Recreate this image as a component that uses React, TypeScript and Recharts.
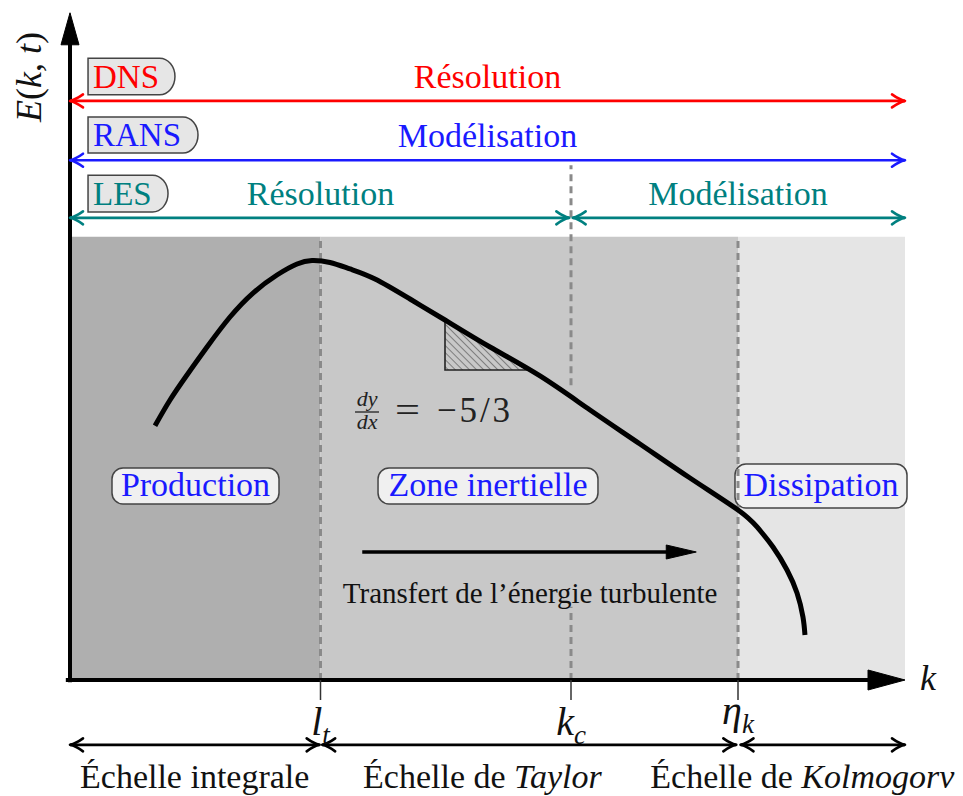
import React from "react";
import {
  ComposedChart,
  Line,
  XAxis,
  YAxis,
  ReferenceArea,
  ReferenceLine,
  ReferenceDot,
} from "recharts";

// ---- energy spectrum E(k) (k axis 0..10, E axis 0..12) ----
const curveK = [1.018, 1.198, 1.401, 1.641, 1.916, 2.192, 2.479, 2.719, 2.898, 3.114, 3.353, 3.653, 4.072, 4.491, 5.03, 5.629, 6.228, 6.826, 7.425, 8.0, 8.228, 8.419, 8.587, 8.707, 8.778, 8.802];
const curveE = [4.589, 5.053, 5.504, 6.009, 6.55, 6.983, 7.308, 7.507, 7.57, 7.534, 7.417, 7.236, 6.875, 6.496, 6.009, 5.486, 4.872, 4.259, 3.645, 3.068, 2.761, 2.4, 1.985, 1.57, 1.137, 0.812];

// ---- spectral regions ----
const regionEdges = [0, 3, 8, 10];
const regionFills = ["#afafaf", "#c8c8c8", "#e5e5e5"];
const regionTop = 8;

// ---- characteristic scales on the k axis ----
const tickValues = [3, 6, 8];
const tickBase = ["l", "k", "η"];
const tickSub = ["t", "c", "k"];

// ---- dashed separators ----
const dashK = [3, 6, 6, 8];
const dashFrom = [0, 5.32, 0, 0];
const dashTo = [8, 9.29, 1.32, 8];

// ---- simulation methods ----
const methodNames = ["DNS", "RANS", "LES"];
const methodColors = ["#ff0000", "#1a1aff", "#008080"];
const methodE = [10.45, 9.38, 8.34];
const methodBoxLeft = [0.216, 0.216, 0.216];
const methodBoxRight = [1.257, 1.533, 1.174];
const methodBoxTop = [11.22, 10.16, 9.11];
const methodBoxBottom = [10.56, 9.51, 8.445];

// ---- method spans ----
const spanMethod = [0, 1, 2, 2];
const spanFrom = [0, 0, 0, 6.02];
const spanTo = [10, 10, 5.98, 10];
const spanText = ["Résolution", "Modélisation", "Résolution", "Modélisation"];
const spanTextK = [5.0, 5.0, 3.0, 8.0];

// ---- zone labels ----
const zoneNames = ["Production", "Zone inertielle", "Dissipation"];
const zoneX1 = [0.503, 3.689, 7.964];
const zoneX2 = [2.503, 6.323, 10.024];
const zoneY1 = [3.176, 3.176, 3.104];
const zoneY2 = [3.826, 3.826, 3.898];

// ---- bottom scale bands ----
const scaleFrom = [0, 3.02, 8.03];
const scaleTo = [2.99, 7.98, 10];
const scaleRoman = ["Échelle integrale", "Échelle de ", "Échelle de "];
const scaleItalic = ["", "Taylor", "Kolmogorv"];
const scaleTextK = [0.12, 3.51, 6.95];
const scaleArrowE = -1.17;
const scaleTextE = -1.95;

// ---- slope triangle ----
const slopeK = [4.491, 5.473];
const slopeE = [5.594, 6.496];

// ---- energy transfer arrow ----
const transferK = [3.5, 7.5];
const transferE = 2.31;
const transferTextK = 5.51;
const transferTextE = 1.39;

const curveData = curveK.map((k, i) => ({ k, E: curveE[i] }));

const SERIF = "'Liberation Serif', 'Times New Roman', Times, serif";
const FONT = { fontFamily: SERIF };

function openHead(tx: number, ty: number, ux: number, uy: number, color: string, sw: number, key: string) {
  const L = 13;
  const W = 6.5;
  const nx = -uy;
  const ny = ux;
  const bx = tx - ux * L;
  const by = ty - uy * L;
  const cx = tx - ux * L * 0.45;
  const cy = ty - uy * L * 0.45;
  const d = `M ${bx + nx * W} ${by + ny * W} Q ${cx + nx * W * 0.2} ${cy + ny * W * 0.2} ${tx} ${ty} Q ${cx - nx * W * 0.2} ${cy - ny * W * 0.2} ${bx - nx * W} ${by - ny * W}`;
  return <path key={key} d={d} fill="none" stroke={color} strokeWidth={sw} strokeLinecap="round" strokeLinejoin="round" />;
}

const arrowShape = (color: string, sw: number, headStart: boolean, headEnd: boolean) => (p: any) => {
  const { x1, y1, x2, y2 } = p;
  const len = Math.hypot(x2 - x1, y2 - y1) || 1;
  const ux = (x2 - x1) / len;
  const uy = (y2 - y1) / len;
  return (
    <g>
      <line x1={x1} y1={y1} x2={x2} y2={y2} stroke={color} strokeWidth={sw} />
      {headStart ? openHead(x1, y1, -ux, -uy, color, sw, "s") : null}
      {headEnd ? openHead(x2, y2, ux, uy, color, sw, "e") : null}
    </g>
  );
};

const solidArrowShape = (color: string, sw: number, L: number, W: number) => (p: any) => {
  const { x1, y1, x2, y2 } = p;
  const len = Math.hypot(x2 - x1, y2 - y1) || 1;
  const ux = (x2 - x1) / len;
  const uy = (y2 - y1) / len;
  const nx = -uy;
  const ny = ux;
  const bx = x2 - ux * L;
  const by = y2 - uy * L;
  const pts = `${x2},${y2} ${bx + nx * W},${by + ny * W} ${bx - nx * W},${by - ny * W}`;
  return (
    <g>
      <line x1={x1} y1={y1} x2={bx + ux * 4} y2={by + uy * 4} stroke={color} strokeWidth={sw} />
      <polygon points={pts} fill={color} stroke={color} strokeWidth={1} strokeLinejoin="miter" />
    </g>
  );
};

const dashShape = (p: any) => (
  <line x1={p.x1} y1={p.y1} x2={p.x2} y2={p.y2} stroke="#8a8a8a" strokeWidth={3} strokeDasharray="7 5" />
);

const methodBoxShape = (i: number) => (p: any) => {
  const { x, y, width: w, height: h } = p;
  const ry = h / 2;
  const rx = h * 0.42;
  const d = `M ${x} ${y} H ${x + w - rx} A ${rx} ${ry} 0 0 1 ${x + w - rx} ${y + h} H ${x} Z`;
  return (
    <g>
      <path d={d} fill="#e6e6e6" stroke="#444" strokeWidth={1.5} />
      <text x={x + 5} y={y + h / 2 + 11.5} fill={methodColors[i]} fontSize={33} style={FONT}>
        {methodNames[i]}
      </text>
    </g>
  );
};

const zoneBoxShape = (i: number) => (p: any) => {
  const { x, y, width: w, height: h } = p;
  return (
    <g>
      <rect x={x} y={y} width={w} height={h} rx={11} ry={11} fill="#f0f0f0" stroke="#444" strokeWidth={1.5} />
      <text x={x + w / 2} y={y + h / 2 + 10} textAnchor="middle" fill="#1a1aff" fontSize={34} style={FONT}>
        {zoneNames[i]}
      </text>
    </g>
  );
};

const triangleShape = (p: any) => {
  const { x, y, width: w, height: h } = p;
  const pts = `${x},${y} ${x},${y + h} ${x + w},${y + h}`;
  return (
    <g>
      <defs>
        <pattern id="hatch" patternUnits="userSpaceOnUse" width={5} height={5} patternTransform="rotate(-45)">
          <line x1={0} y1={0} x2={0} y2={5} stroke="#333" strokeWidth={1} />
        </pattern>
      </defs>
      <polygon points={pts} fill="url(#hatch)" stroke="#222" strokeWidth={1.6} />
    </g>
  );
};

const textShape = (content: React.ReactNode, opts: any) => (p: any) => (
  <text x={p.cx} y={p.cy} style={FONT} {...opts}>
    {content}
  </text>
);

const spanTextShape = (i: number) => (p: any) => (
  <text x={p.cx} y={p.cy - 13} textAnchor="middle" fill={methodColors[spanMethod[i]]} fontSize={34} style={FONT}>
    {spanText[i]}
  </text>
);

const ylabelShape = (p: any) => (
  <text
    x={p.cx}
    y={p.cy}
    transform={`rotate(-90 ${p.cx} ${p.cy})`}
    textAnchor="middle"
    dominantBaseline="central"
    fontSize={36}
    style={FONT}
    fill="#111"
  >
    <tspan fontStyle="italic">E</tspan>(<tspan fontStyle="italic">k</tspan>, <tspan fontStyle="italic">t</tspan>)
  </text>
);

const fractionShape = (p: any) => {
  const { cx, cy } = p;
  return (
    <g fill="#222">
      <text x={cx} y={cy - 6} textAnchor="middle" fontSize={22} fontStyle="italic" style={FONT}>dy</text>
      <line x1={cx - 12} y1={cy} x2={cx + 12} y2={cy} stroke="#222" strokeWidth={1.3} />
      <text x={cx} y={cy + 17} textAnchor="middle" fontSize={22} fontStyle="italic" style={FONT}>dx</text>
      <text x={cx + 28} y={cy + 10} fontSize={36} textLength={25} lengthAdjust="spacingAndGlyphs" style={FONT}>=</text>
      <text x={cx + 70} y={cy + 10} fontSize={35} textLength={73} lengthAdjust="spacing" style={FONT}>−5/3</text>
    </g>
  );
};

const TickLabel = (props: any) => {
  const { x, y, payload } = props;
  const i = tickValues.indexOf(payload.value);
  if (i < 0) return null;
  const dy = i === 2 ? 22 : 33;
  return (
    <text x={x} y={y + dy} textAnchor="middle" fontSize={40} fontStyle="italic" fill="#111" style={FONT}>
      {tickBase[i]}
      <tspan fontSize={27} dy={9}>
        {tickSub[i]}
      </tspan>
    </text>
  );
};

export default function App() {
  return (
    <div style={{ position: "absolute", left: 0, top: 0, width: 963, height: 796, background: "#fff" }}>
      <ComposedChart width={963} height={796} data={curveData} margin={{ top: 15, right: 58, bottom: 56, left: 70 }}>
        <XAxis
          type="number"
          dataKey="k"
          domain={[0, 10]}
          ticks={tickValues}
          interval={0}
          axisLine={false}
          tickLine={{ stroke: "#333", strokeWidth: 1.5 }}
          tickSize={20}
          height={60}
          tick={(p: any) => <TickLabel {...p} />}
          allowDataOverflow
        />
        <YAxis type="number" domain={[0, 12]} hide allowDataOverflow />

        {regionFills.map((f, i) => (
          <ReferenceArea
            key={`reg${i}`}
            x1={regionEdges[i]}
            x2={regionEdges[i + 1]}
            y1={0}
            y2={regionTop}
            fill={f}
            fillOpacity={1}
            stroke="none"
            ifOverflow="visible"
          />
        ))}

        {dashK.map((k, i) => (
          <ReferenceLine
            key={`dash${i}`}
            segment={[
              { x: k, y: dashFrom[i] },
              { x: k, y: dashTo[i] },
            ]}
            shape={dashShape}
            ifOverflow="visible"
          />
        ))}

        <ReferenceArea x1={slopeK[0]} x2={slopeK[1]} y1={slopeE[0]} y2={slopeE[1]} shape={triangleShape} ifOverflow="visible" />

        <Line type="natural" dataKey="E" stroke="#000" strokeWidth={5} dot={false} activeDot={false} isAnimationActive={false} />

        {/* axes */}
        <ReferenceLine
          segment={[
            { x: -0.05, y: 0 },
            { x: 10, y: 0 },
          ]}
          shape={solidArrowShape("#000", 4, 37, 10)}
          ifOverflow="visible"
        />
        <ReferenceLine
          segment={[
            { x: 0, y: -0.04 },
            { x: 0, y: 12.04 },
          ]}
          shape={solidArrowShape("#000", 4, 32, 9)}
          ifOverflow="visible"
        />
        <ReferenceDot x={-0.49} y={10.88} ifOverflow="visible" shape={ylabelShape} />
        <ReferenceDot
          x={10.18}
          y={-0.18}
          ifOverflow="visible"
          shape={textShape("k", { fontSize: 36, fontStyle: "italic", fill: "#111" })}
        />

        {/* method boxes & arrows */}
        {methodNames.map((n, i) => (
          <ReferenceArea
            key={`mb${i}`}
            x1={methodBoxLeft[i]}
            x2={methodBoxRight[i]}
            y1={methodBoxBottom[i]}
            y2={methodBoxTop[i]}
            shape={methodBoxShape(i)}
            ifOverflow="visible"
          />
        ))}
        {spanMethod.map((m, i) => (
          <ReferenceLine
            key={`sp${i}`}
            segment={[
              { x: spanFrom[i], y: methodE[m] },
              { x: spanTo[i], y: methodE[m] },
            ]}
            shape={arrowShape(methodColors[m], 2.6, true, true)}
            ifOverflow="visible"
          />
        ))}
        {spanMethod.map((m, i) => (
          <ReferenceDot key={`spt${i}`} x={spanTextK[i]} y={methodE[m]} ifOverflow="visible" shape={spanTextShape(i)} />
        ))}

        {/* zone labels */}
        {zoneNames.map((n, i) => (
          <ReferenceArea
            key={`zb${i}`}
            x1={zoneX1[i]}
            x2={zoneX2[i]}
            y1={zoneY1[i]}
            y2={zoneY2[i]}
            shape={zoneBoxShape(i)}
            ifOverflow="visible"
          />
        ))}

        {/* slope annotation */}
        <ReferenceDot x={3.557} y={4.836} ifOverflow="visible" shape={fractionShape} />

        {/* energy transfer */}
        <ReferenceLine
          segment={[
            { x: transferK[0], y: transferE },
            { x: transferK[1], y: transferE },
          ]}
          shape={solidArrowShape("#000", 3.5, 30, 7)}
          ifOverflow="visible"
        />
        <ReferenceDot
          x={transferTextK}
          y={transferTextE}
          ifOverflow="visible"
          shape={textShape("Transfert de l’énergie turbulente", { fontSize: 29, textAnchor: "middle", fill: "#111" })}
        />

        {/* scale bands */}
        {scaleFrom.map((f, i) => (
          <ReferenceLine
            key={`sc${i}`}
            segment={[
              { x: f, y: scaleArrowE },
              { x: scaleTo[i], y: scaleArrowE },
            ]}
            shape={arrowShape("#000", 2.6, true, true)}
            ifOverflow="visible"
          />
        ))}
        {scaleRoman.map((r, i) => (
          <ReferenceDot
            key={`sct${i}`}
            x={scaleTextK[i]}
            y={scaleTextE}
            ifOverflow="visible"
            shape={textShape(
              <>
                {r}
                {scaleItalic[i] ? <tspan fontStyle="italic">{scaleItalic[i]}</tspan> : null}
              </>,
              { fontSize: 34, fill: "#111" }
            )}
          />
        ))}
      </ComposedChart>
    </div>
  );
}
